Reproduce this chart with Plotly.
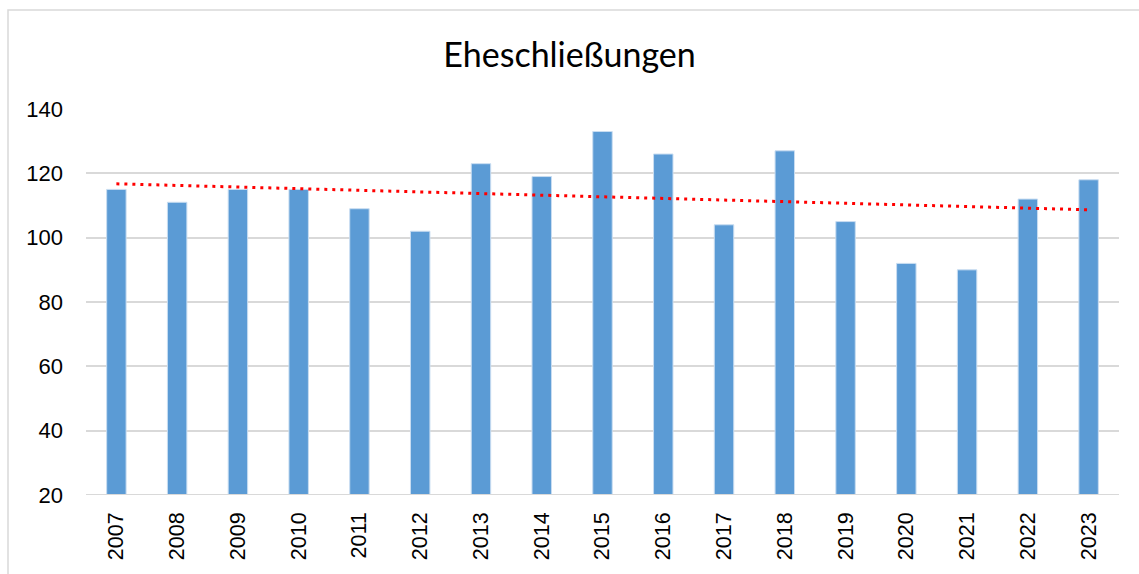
import numpy as np
import plotly.graph_objects as go

years = ["2007", "2008", "2009", "2010", "2011", "2012", "2013", "2014", "2015",
         "2016", "2017", "2018", "2019", "2020", "2021", "2022", "2023"]
marriages = [115, 111, 115, 115, 109, 102, 123, 119, 133, 126, 104, 127, 105, 92, 90, 112, 118]
title_text = "Eheschließungen"
y_ticks = [20, 40, 60, 80, 100, 120, 140]

idx = np.arange(len(marriages))
slope, intercept = np.polyfit(idx, marriages, 1)
trend = slope * idx + intercept

W, H = 1139, 574
L, R, T, B = 86, 20, 109, 79
pw, ph = W - L - R, H - T - B

fig = go.Figure()
fig.add_trace(go.Bar(
    x=years, y=marriages,
    marker=dict(color="#5B9BD5", line=dict(color="#C9DDF1", width=1)),
    width=0.32, showlegend=False, hoverinfo="x+y",
))
fig.add_trace(go.Scatter(
    x=years, y=trend, mode="lines",
    line=dict(color="#FF0000", width=3, dash="3px,5px"),
    showlegend=False, hoverinfo="skip",
))

fig.update_layout(
    width=W, height=H,
    margin=dict(l=L, r=R, t=T, b=B, pad=0),
    paper_bgcolor="white", plot_bgcolor="white",
    title=dict(text=title_text, x=0.5, xanchor="center", y=1 - 55 / H, yanchor="middle",
               font=dict(family="Lato, Open Sans, sans-serif", size=34, color="#000000")),
    font=dict(family="Liberation Sans, Arial, sans-serif", color="#000000"),
    xaxis=dict(
        type="category", tickangle=-90, showgrid=False, showline=False,
        tickfont=dict(size=21.5), ticks="", ticklabelstandoff=12,
    ),
    yaxis=dict(
        range=[20, 140], tickvals=y_ticks, showgrid=True, gridcolor="#D9D9D9", gridwidth=1.5,
        showline=False, zeroline=False, tickfont=dict(size=22), ticks="",
        ticklabelstandoff=22,
    ),
    shapes=[
        dict(type="line", xref="paper", yref="y", x0=0, x1=1, y0=20, y1=20,
             line=dict(color="#D9D9D9", width=2), layer="above"),
        dict(type="rect", xref="paper", yref="paper",
             x0=(8 - L) / pw, x1=(W + 20 - L) / pw,
             y0=-(B + 20) / ph, y1=1 + (T - 10) / ph,
             line=dict(color="#D9D9D9", width=1.5), fillcolor="rgba(0,0,0,0)", layer="below"),
    ],
)

fig.write_html("out.html", config={"displayModeBar": False},
               post_script="document.body.style.margin='0px';")
